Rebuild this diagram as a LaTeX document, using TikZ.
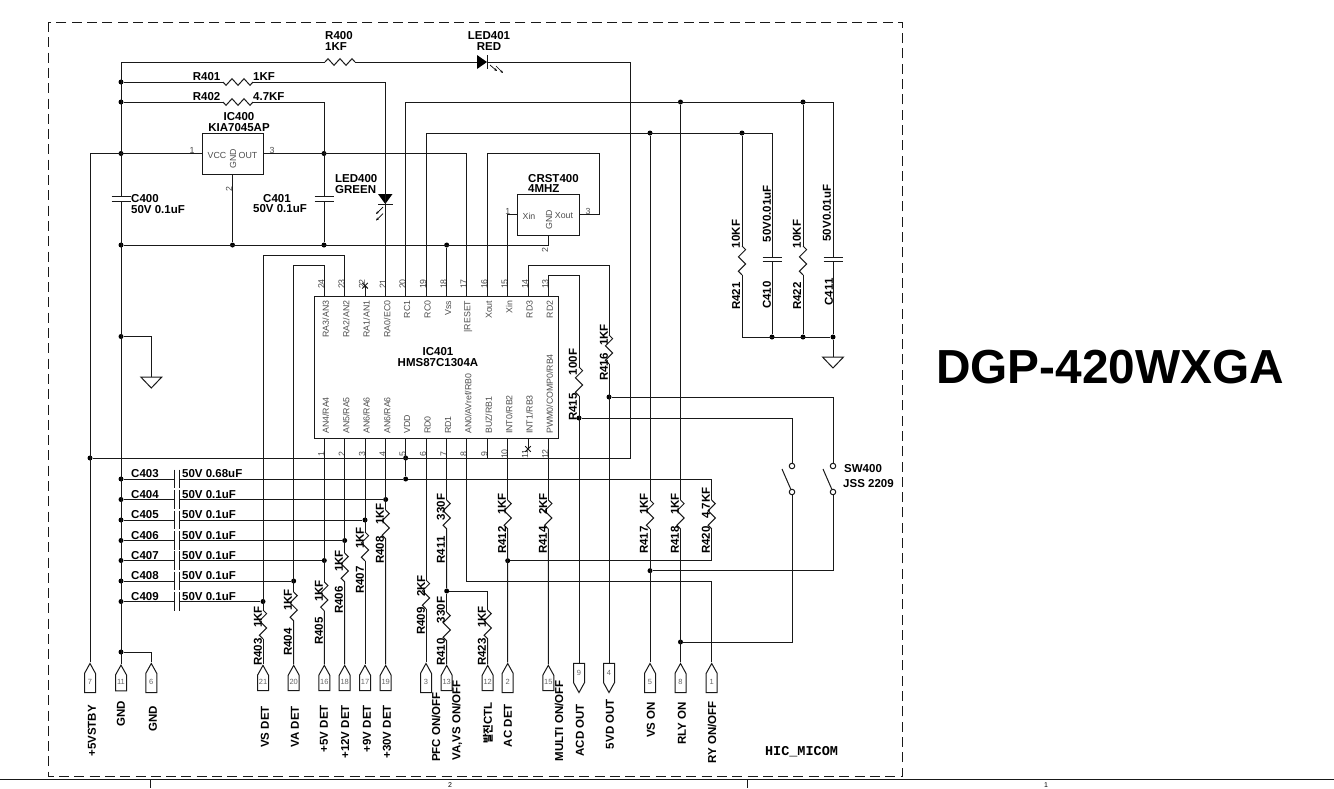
\documentclass[tikz,border=0pt]{standalone}
\usepackage{fontspec}
\setmainfont{Liberation Sans}
\setmonofont{Liberation Mono}
\newfontfamily\cjk{Noto Sans CJK KR}
\usepackage{tikz}
\usetikzlibrary{shapes.symbols,arrows.meta}

\begin{document}
\begin{tikzpicture}[x=1pt,y=-1pt]

  \tikzstyle{wire}=[line width=1pt,black!90]
  \tikzstyle{dot}=[circle,fill=black,inner sep=0pt,minimum size=5pt]
  \tikzstyle{lbl}=[inner sep=0pt,font=\bfseries\fontsize{11.5}{10.6}\selectfont]
  \tikzstyle{vlbl}=[lbl,rotate=90]
  \tikzstyle{tiny}=[inner sep=0pt,black!70,font=\fontsize{8.8}{9}\selectfont]
  \tikzstyle{vtiny}=[tiny,rotate=90]
  \tikzstyle{upconn}=[signal,signal to=north,draw=black!90,line width=1pt,inner sep=0pt,minimum width=11pt,minimum height=23pt,signal pointer angle=58,text=black!60,font=\fontsize{7.5}{8}\selectfont]
  \tikzstyle{downconn}=[upconn,signal to=south]
  \tikzstyle{swc}=[circle,draw=black!90,fill=white,line width=1pt,inner sep=0pt,minimum size=5.5pt]
  \tikzstyle{ledarrow}=[line width=0.7pt,-{Stealth[length=3pt,width=2.5pt]}]

  \useasboundingbox (0,0) rectangle (1334,788);

  \draw[line width=1pt,black!90,dash pattern=on 10pt off 5.3pt] (48,22) rectangle (902,776);
  \draw[wire] (0,779) -- (1334,779);
  \draw[wire] (150,779) -- (150,788);
  \draw[wire] (747,779) -- (747,788);
  \node[inner sep=0pt,font=\fontsize{7}{7}\selectfont] (sheet2) at (450,785) {2};
  \node[inner sep=0pt,font=\fontsize{7}{7}\selectfont] (sheet1) at (1046,785) {1};

  \node[inner sep=0pt,font=\bfseries\fontsize{47.8}{48}\selectfont] (title) at (1110,367) {DGP-420WXGA};
  \node[inner sep=0pt,font=\ttfamily\bfseries\fontsize{13.5}{14}\selectfont] (sheetname) at (801.5,752) {HIC\_MICOM};

  % IC401
  \node[draw=black!90,line width=1pt,minimum width=244pt,minimum height=142pt,inner sep=0pt] (ic401) at (436,367) {};
  \node[lbl,align=center] (ic401name) at (438,357) {IC401\\HMS87C1304A};
  \foreach \n/\x/\t in {24/324.3/{RA3/AN3},23/344.7/{RA2/AN2},22/365/{RA1/AN1},21/385.7/{RA0/EC0},20/405.7/RC1,19/426/RC0,18/446.7/Vss,17/466.7/{|RESET},16/487.3/Xout,15/507.7/Xin,14/528/RD3,13/548.3/RD2} {
    \coordinate (u\n) at (\x,296);
    \node[vtiny,anchor=east] (lu\n) at (\x+1.5,300.5) {\t};
    \node[vtiny] (nu\n) at (\x-3,284) {\n};
  }
  \foreach \n/\x/\t in {1/324.3/{AN4/RA4},2/344.7/{AN5/RA5},3/365/{AN6/RA6},4/385.7/{AN6/RA6},5/405.7/VDD,6/426/RD0,7/446.7/RD1,8/466.7/{AN0/AVref/RB0},9/487.3/{BUZ/RB1},10/507.7/{INT0/RB2},11/528/{INT1/RB3},12/548.3/{PWM0/COMP0/RB4}} {
    \coordinate (d\n) at (\x,438);
    \node[vtiny,anchor=west] (ld\n) at (\x+1.5,434) {\t};
    \node[vtiny] (nd\n) at (\x-3,454) {\n};
  }

  % IC400
  \node[draw=black!90,line width=1pt,minimum width=61pt,minimum height=41pt,inner sep=0pt] (ic400) at (232.5,153.5) {};
  \node[lbl,align=center] (ic400name) at (239,122) {IC400\\KIA7045AP};
  \node[tiny] (vcc) at (217,155) {VCC};
  \node[tiny] (out) at (248,155) {OUT};
  \node[vtiny] (ic400gnd) at (233,159) {GND};
  \node[tiny] (ic400n1) at (192,150) {1};
  \node[tiny] (ic400n3) at (272,150) {3};
  \node[vtiny] (ic400n2) at (229,189) {2};

  % CRST400
  \node[draw=black!90,line width=1pt,minimum width=62pt,minimum height=41pt,inner sep=0pt] (crst400) at (548,214.5) {};
  \node[lbl,align=left] (crst400name) at (528,183.5) [anchor=west] {CRST400\\4MHZ};
  \node[tiny] (xin) at (529,216) {Xin};
  \node[tiny] (xout) at (564,216) {Xout};
  \node[vtiny] (crstgnd) at (549,220) {GND};
  \node[tiny] (crstn1) at (507.7,211) {1};
  \node[tiny] (crstn3) at (588,211) {3};
  \node[vtiny] (crstn2) at (545,250) {2};

  % junctions
  \foreach \n/\x/\y in {ja1/121/82,ja2/121/102,ja3/121/153.5,ja4/121/245,ja5/121/336.5,ja6/121/652,jb1/232.5/245,jb2/324/153.5,jb3/324/245,jb4/446.7/245,jd1/680.5/102,jd2/803/102,je1/650/133,je2/742/133,jf1/772/337,jf2/803/337,jf3/833/337,jv/90/458,j5a/405.7/458,j5b/405.7/479,jr416/609/397,jr415/579/418,jp/385.7/499.5,jq/365/520,jr/344.7/540.5,js/324.3/560.5,jt/293.7/581,ju/263/601.5,jw/446.7/591,jac/507.7/560.7,jvs/650/570.7,jrly/680.5/642} {
    \node[dot] (\n) at (\x,\y) {};
  }

  % connectors at the bottom of the sheet
  \foreach \n/\x/\t/\top/\lx in {7/90/{+5VSTBY}/705/92,11/121/GND/701/121,6/151.3/GND/706/153,21/263/{VS DET}/706/265,20/293.7/{VA DET}/706/295,16/324.3/{+5V DET}/705/324,18/344.7/{+12V DET}/705/345,17/365/{+9V DET}/705/367,19/385.7/{+30V DET}/705/387,3/426/{PFC ON/OFF}/692/436,13/446.7/{VA,VS ON/OFF}/680/457,12/487.7/{{\cjk\fontsize{10.5}{10}\selectfont 발진}CTL}/702/488,2/507.7/{AC DET}/704/508,15/548.3/{MULTI ON/OFF}/680/559,5/650/{VS ON}/702/651,8/680.5/{RLY ON}/702/682,1/711.7/{RY ON/OFF}/701/712} {
    \node[upconn] (p\n) at (\x,683) {\raisebox{2.5pt}{\n}};
    \node[vlbl,anchor=east] (t\n) at (\lx,\top) {\t};
  }
  \foreach \n/\x/\t/\top/\lx in {9/579/{ACD OUT}/704/580,4/609/{5VD OUT}/699/610} {
    \node[downconn] (p\n) at (\x,673) {\raisebox{-3.5pt}{\n}};
    \node[vlbl,anchor=east] (t\n) at (\lx,\top) {\t};
  }

  % resistors on vertical wires
  \foreach \n/\x/\y/\lx/\ny/\vy/\v in {R403/263/610/258/652/617/1KF,R404/293.7/592/288/642/600/1KF,R405/324.3/582/319/631/591/1KF,R406/344.7/553/339/600/561/1KF,R407/365/532/360/580/538/1KF,R408/385.7/510/380/550/514/1KF,R409/426/580/421/621/586/2KF,R411/446.7/500/441/550/507/330F,R410/446.7/612/441/652/610/330F,R423/487.7/610/482/652/617/1KF,R412/507.7/500/502/540/504/1KF,R414/548.3/500/543/540/504/2KF,R417/650/500/644/540/504/1KF,R418/680.5/500/675/540/504/1KF,R420/711.7/500/706/540/503/4.7KF,R415/579/367/573/407/362/100F,R416/609/335/604/367/335/1KF,R421/742/246/736/296/234/10KF,R422/803/246/797/296/234/10KF} {
    \coordinate (\n a) at (\x,\y);
    \draw[wire] (\n a) -- ++(3.6,3.6) -- ++(-7.2,7.2) -- ++(7.2,7.2) -- ++(-7.2,7.2) -- ++(3.6,3.6) coordinate (\n b);
    \node[vlbl] (\n name) at (\lx,\ny) {\n};
    \node[vlbl] (\n val) at (\lx,\vy) {\v};
  }
  % resistors on horizontal wires
  \foreach \n/\x/\y/\a in {R400/325/62/-3.3,R401/223/82/3.3,R402/223/102/3.3} {
    \coordinate (\n a) at (\x,\y);
    \draw[wire] (\n a) -- ++(3,\a) -- ++(6,-2*\a) -- ++(6,2*\a) -- ++(6,-2*\a) -- ++(6,2*\a) -- ++(3,-\a) coordinate (\n b);
  }
  \node[lbl,align=left,anchor=west] (R400name) at (325,41) {R400\\1KF};
  \node[lbl,anchor=west] (R401name) at (192.7,76.7) {R401};
  \node[lbl,anchor=west] (R401val) at (253,76.7) {1KF};
  \node[lbl,anchor=west] (R402name) at (192.7,97) {R402};
  \node[lbl,anchor=west] (R402val) at (253,97) {4.7KF};

  % capacitors on vertical wires
  \foreach \n/\x/\y in {C400/121/199,C401/324/199,C410/772/259.5,C411/833/259.5} {
    \coordinate (\n t) at (\x,\y-2.2);
    \coordinate (\n b) at (\x,\y+2.2);
    \draw[wire] (\x-9.5,\y-2.2) -- (\x+9.5,\y-2.2);
    \draw[wire] (\x-9.5,\y+2.2) -- (\x+9.5,\y+2.2);
  }
  \node[lbl,align=left,anchor=west] (C400name) at (131,204) {C400\\50V 0.1uF};
  \node[lbl,anchor=west] (C401name) at (263,199) {C401};
  \node[lbl,anchor=west] (C401val) at (253,209) {50V 0.1uF};
  \node[vlbl] (C410name) at (767,295) {C410};
  \node[vlbl] (C410val) at (767,213.6) {50V0.01uF};
  \node[vlbl] (C411name) at (829,292) {C411};
  \node[vlbl] (C411val) at (827,213) {50V0.01uF};

  % capacitors of the detect lines
  \foreach \n/\y/\v/\e in {C403/479/{50V 0.68uF}/j5b,C404/499.5/{50V 0.1uF}/jp,C405/520/{50V 0.1uF}/jq,C406/540.5/{50V 0.1uF}/jr,C407/560.5/{50V 0.1uF}/js,C408/581/{50V 0.1uF}/jt,C409/601.5/{50V 0.1uF}/ju} {
    \node[dot] (j\n) at (121,\y) {};
    \coordinate (\n a) at (174,\y);
    \coordinate (\n b) at (179,\y);
    \draw[wire] (174,\y-9.4) -- (174,\y+9.4);
    \draw[wire] (179,\y-9.4) -- (179,\y+9.4);
    \draw[wire] (j\n) -- (\n a);
    \draw[wire] (\n b) -- (\e);
    \node[lbl,anchor=west] (\n name) at (131,\y-5) {\n};
    \node[lbl,anchor=west] (\n val) at (182,\y-5) {\v};
  }

  % LEDs
  \coordinate (led401a) at (477,62);
  \coordinate (led401b) at (487,62);
  \fill[black] (477,55) -- (487,62) -- (477,69) -- cycle;
  \draw[wire] (487,55) -- (487,69);
  \draw[ledarrow] (490,65) -- (497,71);
  \draw[ledarrow] (496,66) -- (503,73);
  \node[lbl,align=center] (led401name) at (489,41) {LED401\\RED};
  \fill[black] (378,194) -- (392.5,194) -- (385.3,204) -- cycle;
  \draw[wire] (378,204) -- (392.5,204);
  \draw[ledarrow] (383,207) -- (376,214);
  \draw[ledarrow] (383,213.5) -- (376,220.5);
  \node[lbl,align=left,anchor=west] (led400name) at (335,184) {LED400\\GREEN};

  % switch
  \node[swc] (swl1) at (792,466) {};
  \node[swc] (swl2) at (792,492) {};
  \node[swc] (swr1) at (833,466) {};
  \node[swc] (swr2) at (833,492) {};
  \coordinate (swl3) at (782,469);
  \coordinate (swr3) at (823,469);
  \draw[wire] (swl3) -- (swl2);
  \draw[wire] (swr3) -- (swr2);
  \node[lbl,anchor=west] (sw400) at (844,469) {SW400};
  \node[lbl,anchor=west] (jss) at (843,484) {JSS 2209};

  % wires, upper part
  \coordinate (ctop) at (121,62);
  \coordinate (cled) at (630,62);
  \coordinate (cvline) at (630,458);
  \draw[wire] (R400b) -- (led401a);
  \draw[wire] (ctop) -- (R400a);
  \draw[wire] (ctop) -- (C400t);
  \draw[wire] (C400b) -- (p11.north);
  \draw[wire] (led401b) -- (cled) -- (cvline) -- (jv);
  \draw[wire] (ja1) -- (R401a);
  \draw[wire] (R401b) -| (u21);
  \draw[wire] (ja2) -- (R402a);
  \draw[wire] (R402b) -| (C401t);
  \draw[wire] (C401b) -- (jb3);
  \draw[wire] (p7.north) |- (ic400.west);
  \draw[wire] (ic400.east) -| (u17);
  \draw[wire] (ic400.south) -- (jb1);
  \draw[wire] (ja4) -| (crst400.south);
  \draw[wire] (jb4) -- (u18);

  \coordinate (c411top) at (833,102);
  \coordinate (c410top) at (772,133);
  \coordinate (xtal3) at (599,153);
  \draw[wire] (u20) |- (c411top) -- (C411t);
  \draw[wire] (C411b) -- (jf3);
  \draw[wire] (u19) |- (c410top) -- (C410t);
  \draw[wire] (C410b) -- (jf1);
  \draw[wire] (je2) -- (R421a);
  \draw[wire] (jd2) -- (R422a);
  \draw[wire] (R421b) |- (jf3);
  \draw[wire] (R422b) -- (jf2);
  \draw[wire] (u16) |- (xtal3) |- (crst400.east);
  \draw[wire] (u15) |- (crst400.west);

  \coordinate (r416top) at (609,265.7);
  \coordinate (r415top) at (579,275.7);
  \draw[wire] (u14) |- (r416top) -- (R416a);
  \draw[wire] (R416b) -- (p4.north);
  \draw[wire] (u13) |- (r415top) -- (R415a);
  \draw[wire] (R415b) -- (p9.north);
  \draw[wire] (jr416) -| (swr1);
  \draw[wire] (jr415) -| (swl1);
  \draw[wire] (swl2) |- (jrly);
  \draw[wire] (swr2) |- (jvs);

  \coordinate (r404top) at (293.7,265);
  \coordinate (r403top) at (263,255);
  \draw[wire] (u24) |- (r404top) -- (R404a);
  \draw[wire] (u23) |- (r403top) -- (R403a);

  % wires, lower part
  \foreach \r/\e in {R403/21,R404/20,R405/16,R406/18,R407/17,R408/19,R409/3,R410/13,R423/12,R412/2,R414/15,R417/5,R418/8} {
    \draw[wire] (\r b) -- (p\e.north);
  }
  \foreach \a/\b in {d1/R405a,d2/R406a,d3/R407a,d4/R408a,d6/R409a,d7/R411a,d10/R412a,d12/R414a,je1/R417a,jd1/R418a,R411b/jw,jw/R410a,d5/j5b} {
    \draw[wire] (\a) -- (\b);
  }
  \draw[wire] (jw) -| (R423a);

  \coordinate (r420top) at (711.7,479);
  \coordinate (ryon) at (711.7,581);
  \coordinate (d9line) at (487.3,458);
  \draw[wire] (j5b) -- (r420top) -- (R420a);
  \draw[wire] (R420b) |- (jac);
  \draw[wire] (d8) |- (ryon) -- (p1.north);
  \draw[wire] (d9) -- (d9line);
  \draw[wire] (ja6) -| (p6.north);

  % pins without connection
  \coordinate (nc22) at (365,285.7);
  \coordinate (nc11) at (528,449);
  \draw[wire] (u22) -- (nc22);
  \draw[wire] (d11) -- (nc11);
  \foreach \c in {nc22,nc11} {
    \draw[wire] (\c) ++(-2.8,-2.8) -- ++(5.6,5.6);
    \draw[wire] (\c) ++(-2.8,2.8) -- ++(5.6,-5.6);
  }

  % ground symbols
  \coordinate (gnd1) at (151.3,377);
  \coordinate (gnd2) at (833,357);
  \draw[wire] (ja5) -| (gnd1);
  \draw[wire] (jf3) -- (gnd2);
  \foreach \c in {gnd1,gnd2} {
    \draw[wire] (\c) ++(-10.5,0) -- ++(21,0) -- ++(-10.5,11) -- cycle;
  }

\end{tikzpicture}
\end{document}
